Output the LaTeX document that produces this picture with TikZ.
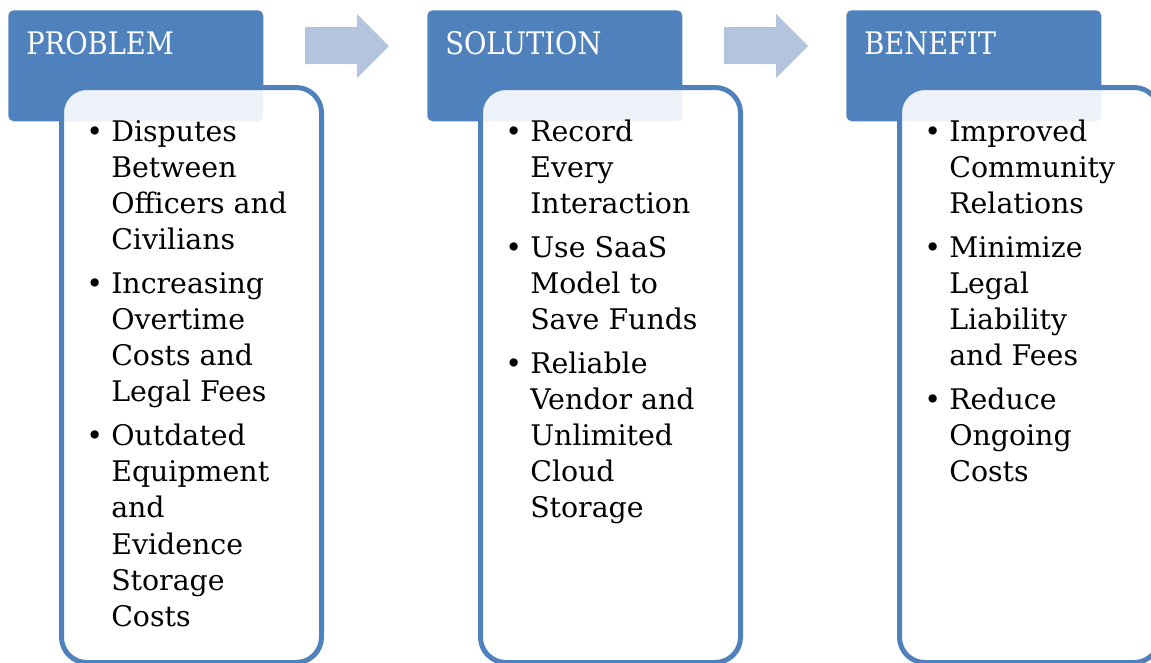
\documentclass[tikz,border=0pt]{standalone}
\usepackage{fontspec}
\setmainfont{DejaVu Serif}
\newfontfamily\headfont{DejaVu Serif}[FakeStretch=0.88]
\usetikzlibrary{positioning}

\definecolor{hdblue}{RGB}{79,129,189}
\definecolor{arrowblue}{RGB}{180,196,223}

\newcommand{\bul}{\makebox[17.25pt][l]{\hspace{-1.5pt}\textbullet}}
\newcommand{\nob}{\hspace{17.25pt}}

\tikzset{
    headbox/.style={fill=hdblue, rounded corners=4pt, minimum width=191.25pt,
        minimum height=83.25pt, anchor=north west, inner sep=0},
    headtext/.style={text=white, anchor=base west, inner sep=0,
        font=\headfont\fontsize{23.3}{28}\selectfont},
    listbox/.style={draw=hdblue, line width=3.75pt, fill=white, fill opacity=0.9,
        rounded corners=19pt, minimum width=195pt, minimum height=431.25pt,
        anchor=north west, inner sep=0},
    listtext/.style={anchor=base west, inner sep=0,
        font=\fontsize{21.3}{27.15}\selectfont},
    stepfill/.style={fill=arrowblue},
}

\begin{document}
\begin{tikzpicture}[x=0.75pt, y=-0.75pt]
\clip (0,0) rectangle (1151,662);

% headers, boxes and arrows
\foreach \i/\name/\title in {0/prob/PROBLEM, 1/sol/SOLUTION, 2/ben/BENEFIT}
{
    \node [headbox] (\name head) at (8+419*\i,10) {};
    \node [listbox] (\name box) at (59+419*\i,85) {};
    \node [headtext] (\name title) at (26+419*\i,54.5) {\title};
}
\foreach \i in {0,1}
{
    \fill [stepfill, xshift=419*0.75*\i pt] (305,27) -- (357,27) -- (357,14) -- (389,46)
        -- (357,78) -- (357,64) -- (305,64) -- cycle;
}

% bullet lists
\node [listtext] (prob list) at (88,141) {%
\begin{tabular}[t]{@{}l@{}}
\bul Disputes\\
\nob Between\\
\nob Officers and\\
\nob Civilians\\[5.6pt]
\bul Increasing\\
\nob Overtime\\
\nob Costs and\\
\nob Legal Fees\\[5.6pt]
\bul Outdated\\
\nob Equipment\\
\nob and\\
\nob Evidence\\
\nob Storage\\
\nob Costs
\end{tabular}};
\node [listtext] (sol list) at (507,141) {%
\begin{tabular}[t]{@{}l@{}}
\bul Record\\
\nob Every\\
\nob Interaction\\[5.6pt]
\bul Use SaaS\\
\nob Model to\\
\nob Save Funds\\[5.6pt]
\bul Reliable\\
\nob Vendor and\\
\nob Unlimited\\
\nob Cloud\\
\nob Storage
\end{tabular}};
\node [listtext] (ben list) at (926,141) {%
\begin{tabular}[t]{@{}l@{}}
\bul Improved\\
\nob Community\\
\nob Relations\\[5.6pt]
\bul Minimize\\
\nob Legal\\
\nob Liability\\
\nob and Fees\\[5.6pt]
\bul Reduce\\
\nob Ongoing\\
\nob Costs
\end{tabular}};
\end{tikzpicture}
\end{document}
